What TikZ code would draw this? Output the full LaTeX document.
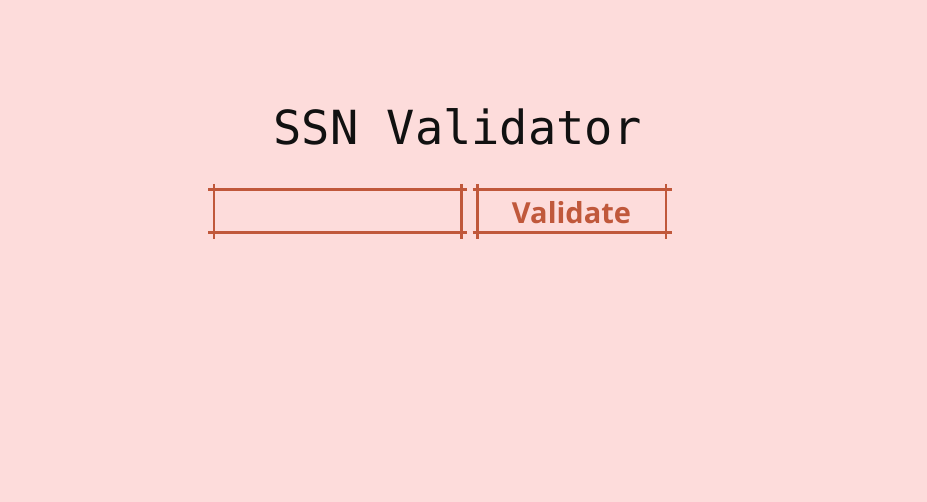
\documentclass[tikz,border=0pt]{standalone}
\usepackage{fontspec}
\usepackage{tikz}
\newfontfamily\titlefont{DejaVu Sans Mono}
\newfontfamily\btnfont{Open Sans}
\definecolor{pagebg}{HTML}{FDDCDB}
\definecolor{rust}{HTML}{C0583B}
\definecolor{ink}{HTML}{111111}
\tikzset{
  sketch/.style={draw=rust, line width=2.8pt},
}

\begin{document}
\begin{tikzpicture}[x=1pt,y=-1pt]
	\fill[pagebg] (0,0) rectangle (927,502);  % page background
	\node[anchor=base, text=ink, inner sep=0pt] (title) at (457.5,145) {\titlefont\fontsize{47}{50}\selectfont SSN Validator};
	% input field
	\draw[sketch] (208,189.5) -- (467,189.5);
	\draw[sketch] (208,232.7) -- (467,232.7);
	\draw[sketch] (214,184) -- (214,239.5);
	\draw[sketch] (461.5,184) -- (461.5,239.5);
	% button
	\draw[sketch] (472.5,189.5) -- (672,189.5);
	\draw[sketch] (472.5,232.7) -- (672,232.7);
	\draw[sketch] (477.5,184) -- (477.5,239.5);
	\draw[sketch] (666,184) -- (666,239.5);
	\node[anchor=base, text=rust, inner sep=0pt] (btnlabel) at (571.5,224) {\btnfont\bfseries\fontsize{29}{32}\selectfont Validate};
\end{tikzpicture}
\end{document}
